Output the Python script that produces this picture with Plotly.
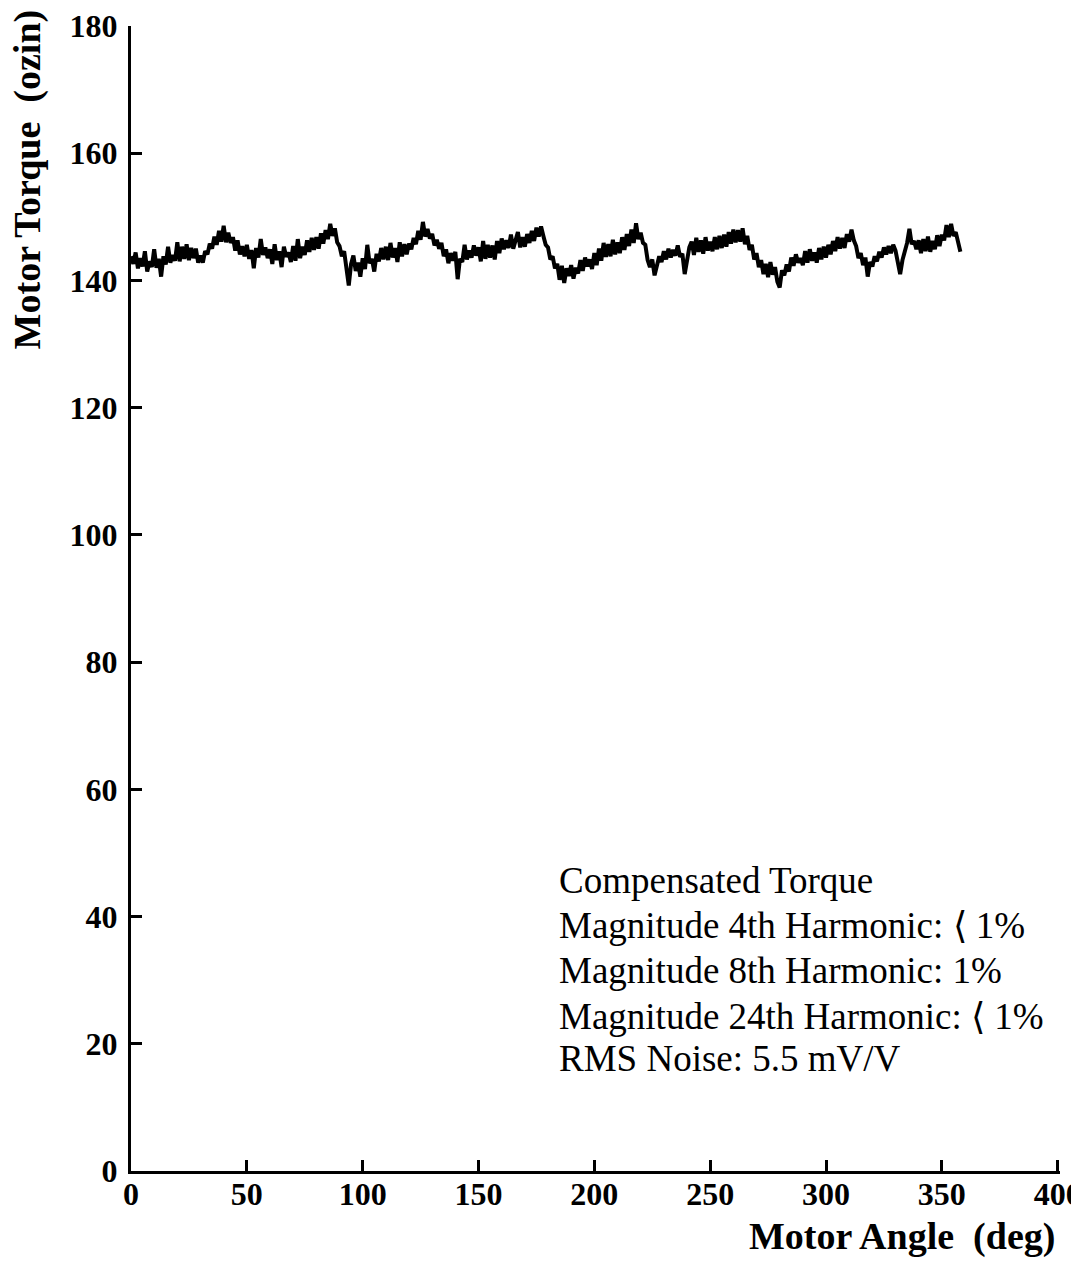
import plotly.graph_objects as go

# Motor angle, one reading per degree (0..358)
angle_deg = list(range(0, 359))

# Compensated torque (ozin)
torque_ozin = [
    143.8, 142.6, 144.4, 141.9, 143.5, 142.2, 144.6, 141.4, 143.0, 142.1,
    144.9, 142.0, 143.4, 140.6, 143.8, 142.5, 145.3, 142.8, 144.0, 143.1,
    146.0, 143.0, 145.3, 143.4, 145.7, 143.2, 145.1, 143.5, 145.0, 142.8,
    143.9, 142.8, 144.6, 144.1, 145.8, 145.0, 146.9, 145.6, 147.8, 146.1,
    148.6, 146.0, 147.5, 145.9, 146.8, 144.7, 146.3, 144.1, 145.4, 143.8,
    145.6, 143.4, 144.8, 141.9, 145.1, 143.6, 146.5, 144.0, 145.2, 143.5,
    144.9, 142.6, 145.7, 143.2, 144.6, 142.1, 145.3, 143.7, 144.4, 142.9,
    145.4, 143.1, 146.5, 143.5, 145.3, 144.0, 146.3, 144.5, 146.7, 144.8,
    146.8, 145.0, 147.4, 145.8, 147.9, 146.5, 148.9, 147.0, 148.2, 146.0,
    145.4, 143.8, 144.6, 142.3, 139.2, 142.6, 143.9, 141.5, 142.8, 140.6,
    143.5, 141.8, 145.6, 142.7, 143.4, 141.4, 144.2, 143.0, 145.1, 143.3,
    145.3, 143.2, 145.9, 143.6, 145.1, 142.9, 146.0, 143.8, 145.7, 144.1,
    145.8, 144.9, 146.7, 145.7, 147.8, 146.4, 149.2, 146.9, 148.1, 146.6,
    147.3, 145.5, 146.4, 145.0, 145.9, 143.8, 144.9, 142.7, 144.3, 143.1,
    144.5, 140.2, 143.4, 142.9, 145.6, 143.3, 144.7, 143.6, 145.5, 143.9,
    145.2, 143.0, 146.2, 143.4, 145.6, 143.6, 145.5, 143.3, 146.2, 144.3,
    146.6, 144.9, 146.3, 145.1, 147.2, 145.0, 146.4, 147.6, 145.2, 146.8,
    145.3, 147.3, 145.9, 147.8, 146.2, 148.3, 146.9, 148.5, 147.0, 145.6,
    145.2, 143.3, 143.8, 141.9, 142.6, 140.1, 142.3, 139.6, 141.9, 140.7,
    142.4, 140.3, 142.0, 141.1, 143.2, 141.5, 143.6, 142.2, 143.3, 141.8,
    144.3, 142.4, 145.0, 143.1, 145.9, 143.7, 145.7, 143.8, 146.4, 144.1,
    146.0, 144.3, 146.8, 144.8, 147.3, 145.4, 148.0, 145.9, 149.0, 146.5,
    147.5, 145.9, 145.6, 143.2, 142.1, 143.3, 140.8, 142.6, 143.8, 142.9,
    144.6, 143.3, 145.0, 143.6, 144.8, 143.9, 145.5, 143.7, 144.2, 141.0,
    143.6, 145.2, 146.1, 144.0, 146.7, 144.5, 146.3, 144.2, 146.8, 144.7,
    146.1, 144.6, 146.8, 144.9, 147.0, 145.1, 147.2, 145.3, 147.6, 145.8,
    148.0, 146.0, 147.9, 146.1, 148.2, 145.7, 147.0, 144.8, 145.6, 143.3,
    144.3, 142.1, 143.2, 141.0, 142.6, 140.5, 142.9, 140.9, 142.1, 139.8,
    138.9, 141.6, 140.8, 142.5, 141.4, 143.6, 142.3, 144.1, 142.8, 143.5,
    142.4, 144.6, 142.8, 144.9, 143.1, 144.4, 142.8, 145.1, 143.3, 145.3,
    143.6, 145.6, 144.1, 146.2, 144.6, 146.8, 145.0, 146.7, 145.1, 147.3,
    146.1, 148.0, 146.3, 145.4, 143.5, 144.3, 142.4, 143.6, 140.6, 142.9,
    142.2, 143.8, 143.0, 144.5, 143.6, 145.2, 144.1, 145.4, 144.3, 145.6,
    144.7, 142.6, 141.0, 143.2, 144.6, 145.9, 148.1, 145.7, 146.2, 144.9,
    146.3, 144.3, 146.5, 144.6, 146.9, 144.5, 146.2, 144.9, 147.1, 145.4,
    147.2, 146.3, 148.7, 146.8, 148.9, 147.0, 147.6, 146.1, 144.5,
]

x_ticks = [0, 50, 100, 150, 200, 250, 300, 350, 400]
y_ticks = [0, 20, 40, 60, 80, 100, 120, 140, 160, 180]

info_lines = [
    "Compensated Torque",
    "Magnitude 4th Harmonic: \u27e8 1%",
    "Magnitude 8th Harmonic: 1%",
    "Magnitude 24th Harmonic: \u27e8 1%",
    "RMS Noise: 5.5 mV/V",
]

fig = go.Figure()
fig.add_trace(go.Scatter(
    x=angle_deg, y=torque_ozin, mode="lines",
    line=dict(color="black", width=4), showlegend=False,
))

tick_font = dict(family="Liberation Serif", size=32, color="black")

# page has an 8px body margin, so the figure is 8px smaller each way
fig.update_layout(
    width=1071, height=1254,
    margin=dict(l=123, r=19, t=18, b=91),
    paper_bgcolor="white", plot_bgcolor="white",
    font=dict(family="Liberation Serif", color="black"),
    xaxis=dict(
        range=[0, 401], tickvals=x_ticks,
        ticktext=["<b>%d</b>" % v for v in x_ticks],
        ticks="inside", ticklen=11, tickwidth=2.5, tickcolor="black",
        showline=True, linecolor="black", linewidth=3,
        showgrid=False, zeroline=False, tickfont=tick_font,
        ticklabelstandoff=-7, automargin=False,
        ticklabeloverflow="allow",
    ),
    yaxis=dict(
        range=[0, 180], tickvals=y_ticks,
        ticktext=["<b>%d</b>" % v for v in y_ticks],
        ticks="inside", ticklen=11, tickwidth=2.5, tickcolor="black",
        showline=True, linecolor="black", linewidth=3,
        showgrid=False, zeroline=False, tickfont=tick_font,
        ticklabelstandoff=4, automargin=False,
        ticklabeloverflow="allow",
    ),
)

# axis titles
fig.add_annotation(
    xref="paper", yref="paper", x=0.997, y=-0.0576,
    xanchor="right", yanchor="middle", showarrow=False,
    text="<b>Motor Angle  (deg)</b>",
    font=dict(family="Liberation Serif", size=38, color="black"),
)
fig.add_annotation(
    xref="paper", yref="paper", x=-0.112, y=0.866,
    xanchor="center", yanchor="middle", showarrow=False, textangle=-90,
    text="<b>Motor Torque  (ozin)</b>",
    font=dict(family="Liberation Serif", size=38, color="black"),
)

# info block
line_y_px = [880, 925, 970, 1016, 1058]
for txt, ypx in zip(info_lines, line_y_px):
    fig.add_annotation(
        xref="paper", yref="paper",
        x=(557 - 131) / 928, y=(1171 - ypx) / 1145,
        xanchor="left", yanchor="middle", showarrow=False,
        text=txt,
        font=dict(family="Liberation Serif", size=37, color="black"),
    )

fig.write_html("out.html")
